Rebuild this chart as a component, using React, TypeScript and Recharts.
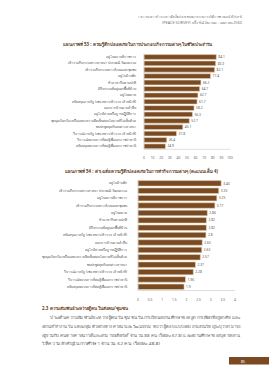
import React from 'react';
import { BarChart, Bar, XAxis, YAxis, LabelList } from 'recharts';

const activities53 = [
  'อยู่ในสถานที่ราชการ',
  'เข้าร่วมกิจกรรมทางศาสนา ประเพณี วัฒนธรรม',
  'เข้าร่วมกิจกรรมทางสังคมและชุมชน',
  'อยู่ในบ้านพัก',
  'ทำมาหากินตามปกติ',
  'มีกิจกรรมที่อยู่นอกพื้นที่บ้าน',
  'อยู่ในตลาด',
  'สนับสนุนภาครัฐ (เช่น ทหาร/ตำรวจ เจ้าหน้าที่)',
  'ออกจากบ้านยามค่ำคืน',
  'อยู่ใกล้ค่ายหรือฐานปฏิบัติการ',
  'ชุมนุมเรียกร้องหรือแสดงความคิดเห็นต่อนโยบายที่ไม่เห็นด้วย',
  'พบปะพูดคุยกับคนต่างศาสนา',
  'วิจารณ์ภาครัฐ (เช่น ทหาร/ตำรวจ เจ้าหน้าที่)',
  'วิจารณ์ขบวนการที่ต่อสู้เพื่อเอกราชปาตานี',
  'สนับสนุนขบวนการที่ต่อสู้เพื่อเอกราชปาตานี',
];
const percent53 = [84.1, 83.3, 82.1, 77.4, 66.2, 64.7, 62.7, 61.7, 58.2, 56.3, 52.7, 45.1, 37.8, 26.4, 24.9];
const percentTicks = [0, 10, 20, 30, 40, 50, 60, 70, 80, 90, 100];

const activities54 = [
  'อยู่ในบ้านพัก',
  'เข้าร่วมกิจกรรมทางศาสนา ประเพณี วัฒนธรรม',
  'อยู่ในสถานที่ราชการ',
  'เข้าร่วมกิจกรรมทางสังคมและชุมชน',
  'อยู่ในตลาด',
  'ทำมาหากินตามปกติ',
  'มีกิจกรรมที่อยู่นอกพื้นที่บ้าน',
  'สนับสนุนภาครัฐ (เช่น ทหาร/ตำรวจ เจ้าหน้าที่)',
  'ออกจากบ้านยามค่ำคืน',
  'อยู่ใกล้ค่ายหรือฐานปฏิบัติการ',
  'ชุมนุมเรียกร้องหรือแสดงความคิดเห็นต่อนโยบายที่ไม่เห็นด้วย',
  'พบปะพูดคุยกับคนต่างศาสนา',
  'วิจารณ์ภาครัฐ (เช่น ทหาร/ตำรวจ เจ้าหน้าที่)',
  'วิจารณ์ขบวนการที่ต่อสู้เพื่อเอกราชปาตานี',
  'สนับสนุนขบวนการที่ต่อสู้เพื่อเอกราชปาตานี',
];
const mean54 = [3.43, 3.33, 3.25, 3.17, 2.86, 2.82, 2.82, 2.8, 2.65, 2.63, 2.57, 2.37, 2.28, 1.96, 1.9];
const meanTicks = [0, 0.5, 1, 1.5, 2, 2.5, 3, 3.5, 4];

const title53 = 'แผนภาพที่ 53 : ความรู้สึกปลอดภัยในการประกอบกิจกรรมต่างๆ ในชีวิตประจำวัน';
const title54 = 'แผนภาพที่ 54 : ค่าเฉลี่ยความรู้สึกปลอดภัยในการทำกิจกรรมต่างๆ (คะแนนเต็ม 4)';
const header1 = 'รายงานผลการสำรวจความคิดเห็นประชาชนต่อกระบวนการสันติภาพชายแดนใต้/ปาตานี';
const header2 = '(PEACE SURVEY) ครั้งที่ 4 มีนาคม - เมษายน 2560';
const sectionHeading = '2.3 ความสัมพันธ์ระหว่างผู้คนในสังคม/ชุมชน';
const paragraph = [
  'ประเด็นความสัมพันธ์ระหว่างผู้คนในชุมชนในการเรียนสถานศึกษาของลูก การเลือกที่อยู่อาศัย และ',
  'สถานที่ทำงาน ในแต่ละกลุ่มตัวอย่างต่างศาสนาและวัฒนธรรม พบว่า ผู้ตอบแบบสอบถามส่วนใหญ่ระบุว่าสามารถ',
  'อยู่ร่วมกับคนต่างศาสนาได้และสามารถเลือกได้ จำนวน 88 คน (ร้อยละ 67.8) และสถานศึกษาของบุตรหลาน',
  'ให้ความสำคัญในการศึกษา จำนวน 62 คน (ร้อยละ 48.8)',
];
const pageNumber = '85';

const data53 = activities53.map((name, i) => ({ name, value: percent53[i] }));
const data54 = activities54.map((name, i) => ({ name, value: mean54[i] }));

const FONT = '"Noto Sans", "DejaVu Sans", sans-serif';
const BAR = '#7a4a22';
const BAR_EDGE = '#e6d6bf';

const CatTick = (props: any) => {
  const { x, y, payload } = props;
  return (
    <text x={x} y={y} dy={1.2} textAnchor="end" fontSize={3.3} fill="#555" fontFamily={FONT}>
      {payload.value}
    </text>
  );
};

const NumTick = (props: any) => {
  const { x, y, payload } = props;
  return (
    <text x={x} y={y} dy={2.6} textAnchor="middle" fontSize={3.3} fill="#666" fontFamily={FONT}>
      {payload.value}
    </text>
  );
};

export default function App() {
  return (
    <div style={{ position: 'absolute', left: 0, top: 0, width: 269, height: 380, background: '#ffffff', overflow: 'hidden', fontFamily: FONT }}>
      <svg width={269} height={380} style={{ position: 'absolute', left: 0, top: 0 }}>
        <text x={242} y={18} fontSize={3.4} fill="#777" textAnchor="end" textLength={104} lengthAdjust="spacingAndGlyphs">{header1}</text>
        <text x={242} y={24} fontSize={3.4} fill="#777" textAnchor="end" textLength={80} lengthAdjust="spacingAndGlyphs">{header2}</text>
        <text x={63} y={46} fontSize={4.4} fontWeight="bold" fill="#5b3a1c" textLength={149} lengthAdjust="spacingAndGlyphs">{title53}</text>
        <text x={65} y={173} fontSize={4.4} fontWeight="bold" fill="#5b3a1c" textLength={153} lengthAdjust="spacingAndGlyphs">{title54}</text>
        <text x={42} y={310} fontSize={4.4} fontWeight="bold" fill="#6b3f1a" textLength={86} lengthAdjust="spacingAndGlyphs">{sectionHeading}</text>
        <text x={50} y={319} fontSize={4} fill="#666" textLength={190} lengthAdjust="spacingAndGlyphs">{paragraph[0]}</text>
        <text x={42} y={328} fontSize={4} fill="#666" textLength={198} lengthAdjust="spacingAndGlyphs">{paragraph[1]}</text>
        <text x={42} y={336.5} fontSize={4} fill="#666" textLength={198} lengthAdjust="spacingAndGlyphs">{paragraph[2]}</text>
        <text x={42} y={345} fontSize={4} fill="#666" textLength={118} lengthAdjust="spacingAndGlyphs">{paragraph[3]}</text>
        <rect x={229} y={357} width={40} height={7.5} fill="#7a4a22" />
        <text x={241} y={362.5} fontSize={3.6} fill="#ffffff">{pageNumber}</text>
      </svg>

      <div style={{ position: 'absolute', left: 0, top: 0 }}>
        <BarChart width={269} height={162} data={data53} layout="vertical"
          margin={{ top: 53.6, right: 39, left: 0, bottom: 4.7 }} barCategoryGap={1.4}>
          <XAxis type="number" domain={[0, 100]} ticks={percentTicks} interval={0}
            tick={<NumTick />} tickLine={false} tickMargin={1.5}
            axisLine={{ stroke: '#c8c8c8', strokeWidth: 0.6 }} height={8} />
          <YAxis type="category" dataKey="name" width={144} interval={0}
            tick={<CatTick />} tickLine={false} tickMargin={2}
            axisLine={{ stroke: '#c8c8c8', strokeWidth: 0.6 }} />
          <Bar dataKey="value" fill={BAR} stroke={BAR_EDGE} strokeWidth={0.6} barSize={4.8} isAnimationActive={false}>
            <LabelList dataKey="value" position="right" offset={2} style={{ fontSize: 3.3, fill: '#555' }} />
          </Bar>
        </BarChart>
      </div>

      <div style={{ position: 'absolute', left: 0, top: 0 }}>
        <BarChart width={269} height={310} data={data54} layout="vertical"
          margin={{ top: 179.6, right: 34, left: 0, bottom: 11.5 }} barCategoryGap={1.6}>
          <XAxis type="number" domain={[0, 4]} ticks={meanTicks} interval={0}
            tick={<NumTick />} tickLine={false} tickMargin={1.5}
            axisLine={{ stroke: '#c8c8c8', strokeWidth: 0.6 }} height={8} />
          <YAxis type="category" dataKey="name" width={138} interval={0}
            tick={<CatTick />} tickLine={false} tickMargin={5}
            axisLine={{ stroke: '#c8c8c8', strokeWidth: 0.6 }} />
          <Bar dataKey="value" fill={BAR} stroke={BAR_EDGE} strokeWidth={0.6} barSize={5.5} isAnimationActive={false}>
            <LabelList dataKey="value" position="right" offset={2} style={{ fontSize: 3.3, fill: '#555' }} />
          </Bar>
        </BarChart>
      </div>
    </div>
  );
}
